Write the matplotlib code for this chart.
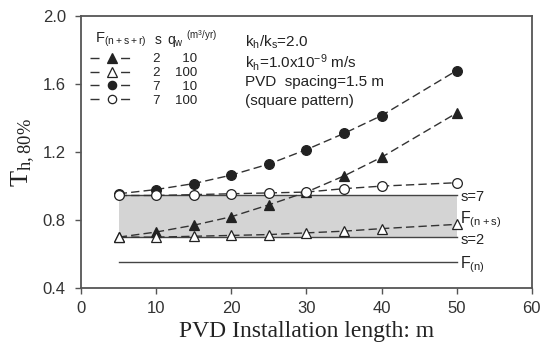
import matplotlib.pyplot as plt
from matplotlib.lines import Line2D

# installation length (m)
length = [5, 10, 15, 20, 25, 30, 35, 40, 50]

# T_h,80% for each case F(n+s+r)
s2_q10 = [0.70, 0.73, 0.77, 0.82, 0.89, 0.965, 1.06, 1.17, 1.43]
s2_q100 = [0.70, 0.70, 0.705, 0.71, 0.715, 0.725, 0.735, 0.75, 0.775]
s7_q10 = [0.955, 0.98, 1.015, 1.065, 1.13, 1.215, 1.31, 1.415, 1.68]
s7_q100 = [0.945, 0.945, 0.95, 0.955, 0.96, 0.965, 0.985, 1.0, 1.02]

s_vals = [2, 2, 7, 7]
qw_vals = [10, 100, 10, 100]
markers = ['^', '^', 'o', 'o']
filled = [True, False, True, False]

# reference levels
F_n = 0.555
F_ns_s2 = 0.70
F_ns_s7 = 0.95

info_lines = ['$k_h/k_s$=2.0', '$k_h$=1.0x10$^{-9}$ m/s', 'PVD  spacing=1.5 m', '(square pattern)']

plt.rcParams['font.family'] = ['Liberation Sans', 'DejaVu Sans']
plt.rcParams['mathtext.default'] = 'regular'

dark = '#222222'
grey = '#555555'

fig = plt.figure(figsize=(5.41, 3.43), dpi=100)
ax = fig.add_axes([0.15, 0.16, 0.833, 0.793])

x0, x1 = length[0], length[-1]
ax.fill_between([x0, x1], [F_ns_s2] * 2, [F_ns_s7] * 2, color='#d4d4d4', lw=0, zorder=1)
for lvl in [F_n, F_ns_s2, F_ns_s7]:
    ax.plot([x0, x1], [lvl, lvl], color='#444444', lw=1.0, zorder=2)

handles = []
series = [s2_q10, s2_q100, s7_q10, s7_q100]
for vals, m, f in zip(series, markers, filled):
    ms = 7.5 if m == '^' else 7
    ax.plot(length, vals, color='#333333', ls=(0, (6, 3)), lw=1.0,
            marker=m, ms=ms, mfc=dark if f else 'white', mec=dark, mew=0.9, zorder=3)
    # legend key: short dash, marker, short dash
    handles.append(Line2D([], [], color='#333333', ls=(0, (6.5, 15.5)), lw=1.0, marker=m, ms=ms - 1,
                          mfc=dark if f else 'white', mec=dark, mew=0.9))

labels = []
for s, q in zip(s_vals, qw_vals):
    pad = '  ' * (3 - len(str(q)))
    labels.append(f'     {s}    {pad}{q}')
leg = ax.legend(handles, labels, loc='upper left', bbox_to_anchor=(0.009, 0.884), frameon=False,
                fontsize=9.5, handlelength=3.2, handletextpad=0.2, labelspacing=0.13,
                borderaxespad=0.0)
for t in leg.get_texts():
    t.set_color(dark)

ax.text(0.031, 0.914, 'F$_{(n+s+r)}$', transform=ax.transAxes, fontsize=10.5, color=dark, va='center')
ax.text(0.163, 0.914, 's', transform=ax.transAxes, fontsize=10, color=dark, va='center')
ax.text(0.19, 0.914, 'q$_w$ $^{(m^3/yr)}$', transform=ax.transAxes, fontsize=10, color=dark,
        va='center')

for line, yy in zip(info_lines, [0.902, 0.831, 0.758, 0.687]):
    ax.text(0.363, yy, line, transform=ax.transAxes, fontsize=11, color=dark,
            va='center', ha='left')

tx = x1 + 0.5
ax.text(tx, F_ns_s7 - 0.015, 's=7', fontsize=10.5, color=dark, va='center')
ax.text(tx, 0.80, '$F_{(n+s)}$', fontsize=11.5, color=dark, va='center')
ax.text(tx, F_ns_s2 - 0.015, 's=2', fontsize=10.5, color=dark, va='center')
ax.text(tx, F_n - 0.02, '$F_{(n)}$', fontsize=11.5, color=dark, va='center')

ax.set_xlim(0, 60)
ax.set_ylim(0.4, 2.0)
ax.set_xticks(range(0, 61, 10))
ax.set_yticks([0.4, 0.8, 1.2, 1.6, 2.0])
ax.set_yticklabels(['0.4', '0.8', '1.2', '1.6', '2.0'])
ax.tick_params(direction='out', length=4, width=1.0, color=grey, labelsize=12,
               labelcolor='#333333')
ax.tick_params(axis='y', pad=7)
ax.tick_params(axis='x', pad=5)
for sp in ax.spines.values():
    sp.set_color(grey)
    sp.set_linewidth(1.3)

ax.set_xlabel('PVD Installation length: m', family='Liberation Serif', fontsize=17,
              color=dark, labelpad=4)
ax.set_ylabel('$T_{h,80\\%}$', family='Liberation Serif', fontsize=19, color=dark, labelpad=4)

fig.savefig('out.png', dpi=100)
